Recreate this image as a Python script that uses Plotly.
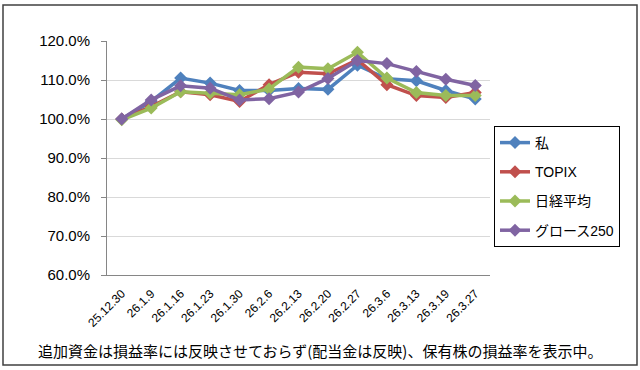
import plotly.graph_objects as go

dates = ["25.12.30", "26.1.9", "26.1.16", "26.1.23", "26.1.30", "26.2.6", "26.2.13",
         "26.2.20", "26.2.27", "26.3.6", "26.3.13", "26.3.19", "26.3.27"]

watashi = [100.0, 104.5, 110.5, 109.2, 107.3, 107.3, 107.8, 107.6, 113.8, 110.3, 109.8, 107.3, 105.1]
topix = [100.0, 103.2, 107.0, 106.2, 104.5, 108.8, 112.0, 111.6, 115.2, 108.8, 106.0, 105.5, 106.8]
nikkei = [99.8, 102.8, 107.0, 106.6, 106.2, 107.7, 113.3, 112.9, 117.1, 110.5, 106.8, 106.0, 106.0]
growth = [100.0, 104.9, 108.5, 107.9, 104.9, 105.2, 106.9, 110.4, 115.0, 114.2, 112.2, 110.2, 108.6]

names = ["私", "TOPIX", "日経平均", "グロース250"]
colors = ["#4F81BD", "#C0504D", "#9BBB59", "#8064A2"]
series = [watashi, topix, nikkei, growth]

fig = go.Figure()
for i, (n, c, s) in enumerate(zip(names, colors, series)):
    fig.add_trace(go.Scatter(
        x=dates, y=s, name=n, mode="lines+markers", legendgroup=f"g{i}",
        line=dict(color=c, width=3.5),
        marker=dict(symbol="diamond", size=10, color=c),
    ))

L, R, T, B = 107, 490, 41, 275
W = R - L
H = B - T

def px(x):
    return (x - L) / W

def py(y):
    return (B - y) / H

fig.update_layout(
    width=640, height=370,
    margin=dict(l=L, r=640 - R, t=T, b=370 - B, autoexpand=False),
    paper_bgcolor="white", plot_bgcolor="white",
    font=dict(family="'Liberation Sans', 'Noto Sans CJK JP'", color="#000000"),
    showlegend=True,
    legend=dict(
        x=px(494), y=py(126), xanchor="left", yanchor="top",
        bordercolor="#000000", borderwidth=1, bgcolor="white",
        font=dict(size=14, family="'Liberation Sans', 'Noto Sans CJK JP'"),
        tracegroupgap=8, itemwidth=30,
    ),
    xaxis=dict(
        type="category", range=[-0.5, 12.5],
        tickangle=-45, tickfont=dict(size=12),
        showgrid=False, showline=True, linecolor="#868686", linewidth=1,
        ticks="outside", ticklen=6, tickcolor="rgba(0,0,0,0)", fixedrange=True,
    ),
    yaxis=dict(
        range=[60, 120], dtick=10, tickformat=".1f", ticksuffix="%",
        tickfont=dict(size=15), ticklabelstandoff=8,
        showgrid=True, gridcolor="#D9D9D9", gridwidth=1,
        showline=True, linecolor="#868686", linewidth=1,
        ticks="outside", ticklen=5, tickcolor="#868686",
        zeroline=False, fixedrange=True,
    ),
)

fig.add_shape(type="rect", xref="paper", yref="paper",
              x0=px(3), x1=px(637), y0=py(365), y1=py(5),
              line=dict(color="#404040", width=1.5), fillcolor="rgba(0,0,0,0)", layer="below")

fig.add_annotation(
    text="追加資金は損益率には反映させておらず(配当金は反映)、保有株の損益率を表示中。",
    xref="paper", yref="paper", x=px(320), y=py(350),
    showarrow=False, xanchor="center", yanchor="middle",
    font=dict(size=15, family="Noto Sans CJK JP"),
)

fig.write_html("out.html", config={"displayModeBar": False},
               post_script="document.body.style.margin='0';")
